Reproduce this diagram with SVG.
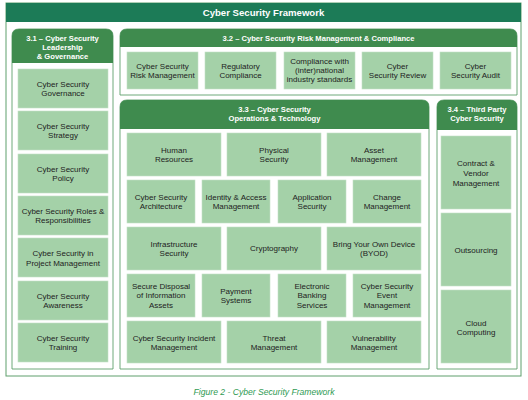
<svg xmlns="http://www.w3.org/2000/svg" width="528" height="400" viewBox="0 0 528 400">
<style>
.frame{fill:#fff;stroke:#5f9f6c;stroke-width:1}
.sec{fill:#fff;stroke:#5f9f6c;stroke-width:0.9}
.hdr{fill:#3f8b4e}
.box{fill:#a4d1a8;stroke:#c4e2c6;stroke-width:0.6}
.bt{font-family:"Liberation Sans",Arial,sans-serif;font-size:8px;fill:#222;text-anchor:middle}
.ht{font-family:"Liberation Sans",Arial,sans-serif;font-size:7.6px;font-weight:bold;fill:#fff;text-anchor:middle}
.tt{font-family:"Liberation Sans",Arial,sans-serif;font-size:9.6px;font-weight:bold;fill:#fff;text-anchor:middle}
.cap{font-family:"Liberation Sans",Arial,sans-serif;font-size:8.6px;font-style:italic;fill:#2f9a52;text-anchor:middle}
</style>
<rect width="528" height="400" fill="#fff"/>
<g id="frame">
<rect class="frame" x="6" y="3" width="515" height="373"/>
<rect x="6" y="3" width="515" height="19" fill="#1c7b57"/>
<text class="tt" x="263.5" y="16">Cyber Security Framework</text>
</g>
<g id="connectors"></g>
<g id="sec31">
<path class="sec" d="M12,369 V36 Q12,29 19,29 H106 Q113,29 113,36 V369 Z"/>
<path class="hdr" d="M12,63 V36 Q12,29 19,29 H106 Q113,29 113,36 V63 Z"/>
<text class="ht" x="62.5" y="40.5">3.1 – Cyber Security</text>
<text class="ht" x="62.5" y="49.5">Leadership</text>
<text class="ht" x="62.5" y="58.5">&amp; Governance</text>
</g>
<g id="n31a"><rect class="box" x="18" y="69" width="90" height="39"/><text class="bt" x="63" y="86.5">Cyber Security</text><text class="bt" x="63" y="96">Governance</text></g>
<g id="n31b"><rect class="box" x="18" y="111" width="90" height="39"/><text class="bt" x="63" y="128.5">Cyber Security</text><text class="bt" x="63" y="138">Strategy</text></g>
<g id="n31c"><rect class="box" x="18" y="154" width="90" height="39"/><text class="bt" x="63" y="171.5">Cyber Security</text><text class="bt" x="63" y="181">Policy</text></g>
<g id="n31d"><rect class="box" x="18" y="196" width="90" height="39"/><text class="bt" x="63" y="213.5">Cyber Security Roles &amp;</text><text class="bt" x="63" y="223">Responsibilities</text></g>
<g id="n31e"><rect class="box" x="18" y="238" width="90" height="39"/><text class="bt" x="63" y="256">Cyber Security in</text><text class="bt" x="63" y="265.5">Project Management</text></g>
<g id="n31f"><rect class="box" x="18" y="281" width="90" height="39"/><text class="bt" x="63" y="298.5">Cyber Security</text><text class="bt" x="63" y="308">Awareness</text></g>
<g id="n31g"><rect class="box" x="18" y="323" width="90" height="39"/><text class="bt" x="63" y="340.5">Cyber Security</text><text class="bt" x="63" y="350">Training</text></g>

<g id="sec32">
<path class="sec" d="M120,95 V36 Q120,29 127,29 H510 Q517,29 517,36 V95 Z"/>
<path class="hdr" d="M120,47 V36 Q120,29 127,29 H510 Q517,29 517,36 V47 Z"/>
<text class="ht" x="318.5" y="41">3.2 – Cyber Security Risk Management &amp; Compliance</text>
</g>
<g id="n32a"><rect class="box" x="127" y="52" width="71" height="37"/><text class="bt" x="162.5" y="68.5">Cyber Security</text><text class="bt" x="162.5" y="78">Risk Management</text></g>
<g id="n32b"><rect class="box" x="205" y="52" width="71" height="37"/><text class="bt" x="240.5" y="68.5">Regulatory</text><text class="bt" x="240.5" y="78">Compliance</text></g>
<g id="n32c"><rect class="box" x="284" y="52" width="71" height="37"/><text class="bt" x="319.5" y="64.3">Compliance with</text><text class="bt" x="319.5" y="73.3">(inter)national</text><text class="bt" x="319.5" y="82.3">industry standards</text></g>
<g id="n32d"><rect class="box" x="362" y="52" width="71" height="37"/><text class="bt" x="397.5" y="68.5">Cyber</text><text class="bt" x="397.5" y="78">Security Review</text></g>
<g id="n32e"><rect class="box" x="440" y="52" width="71" height="37"/><text class="bt" x="475.5" y="68.5">Cyber</text><text class="bt" x="475.5" y="78">Security Audit</text></g>

<g id="sec33">
<path class="sec" d="M120,369 V107 Q120,100 127,100 H422 Q429,100 429,107 V369 Z"/>
<path class="hdr" d="M120,129 V107 Q120,100 127,100 H422 Q429,100 429,107 V129 Z"/>
<text class="ht" x="274.5" y="111.5">3.3 – Cyber Security</text>
<text class="ht" x="274.5" y="120.5">Operations &amp; Technology</text>
</g>
<g id="n33a"><rect class="box" x="127" y="133" width="94" height="43"/><text class="bt" x="174" y="152.5">Human</text><text class="bt" x="174" y="162">Resources</text></g>
<g id="n33b"><rect class="box" x="227" y="133" width="94" height="43"/><text class="bt" x="274" y="152.5">Physical</text><text class="bt" x="274" y="162">Security</text></g>
<g id="n33c"><rect class="box" x="327" y="133" width="94" height="43"/><text class="bt" x="374" y="152.5">Asset</text><text class="bt" x="374" y="162">Management</text></g>
<g id="n33d"><rect class="box" x="127" y="180" width="68" height="43"/><text class="bt" x="161" y="199.5">Cyber Security</text><text class="bt" x="161" y="209">Architecture</text></g>
<g id="n33e"><rect class="box" x="202" y="180" width="68" height="43"/><text class="bt" x="236" y="199.5">Identity &amp; Access</text><text class="bt" x="236" y="209">Management</text></g>
<g id="n33f"><rect class="box" x="278" y="180" width="68" height="43"/><text class="bt" x="312" y="199.5">Application</text><text class="bt" x="312" y="209">Security</text></g>
<g id="n33g"><rect class="box" x="353" y="180" width="68" height="43"/><text class="bt" x="387" y="199.5">Change</text><text class="bt" x="387" y="209">Management</text></g>
<g id="n33h"><rect class="box" x="127" y="227" width="94" height="43"/><text class="bt" x="174" y="246.5">Infrastructure</text><text class="bt" x="174" y="256">Security</text></g>
<g id="n33i"><rect class="box" x="227" y="227" width="94" height="43"/><text class="bt" x="274" y="251.3">Cryptography</text></g>
<g id="n33j"><rect class="box" x="327" y="227" width="94" height="43"/><text class="bt" x="374" y="246.5">Bring Your Own Device</text><text class="bt" x="374" y="256">(BYOD)</text></g>
<g id="n33k"><rect class="box" x="127" y="274" width="68" height="43"/><text class="bt" x="161" y="288.8">Secure Disposal</text><text class="bt" x="161" y="298.3">of Information</text><text class="bt" x="161" y="307.8">Assets</text></g>
<g id="n33l"><rect class="box" x="202" y="274" width="68" height="43"/><text class="bt" x="236" y="293.5">Payment</text><text class="bt" x="236" y="303">Systems</text></g>
<g id="n33m"><rect class="box" x="278" y="274" width="68" height="43"/><text class="bt" x="312" y="288.8">Electronic</text><text class="bt" x="312" y="298.3">Banking</text><text class="bt" x="312" y="307.8">Services</text></g>
<g id="n33n"><rect class="box" x="353" y="274" width="68" height="43"/><text class="bt" x="387" y="288.8">Cyber Security</text><text class="bt" x="387" y="298.3">Event</text><text class="bt" x="387" y="307.8">Management</text></g>
<g id="n33o"><rect class="box" x="127" y="321" width="94" height="42"/><text class="bt" x="174" y="340.5">Cyber Security Incident</text><text class="bt" x="174" y="350">Management</text></g>
<g id="n33p"><rect class="box" x="227" y="321" width="94" height="42"/><text class="bt" x="274" y="340.5">Threat</text><text class="bt" x="274" y="350">Management</text></g>
<g id="n33q"><rect class="box" x="327" y="321" width="94" height="42"/><text class="bt" x="374" y="340.5">Vulnerability</text><text class="bt" x="374" y="350">Management</text></g>

<g id="sec34">
<path class="sec" d="M437,369 V107 Q437,100 444,100 H510 Q517,100 517,107 V369 Z"/>
<path class="hdr" d="M437,130 V107 Q437,100 444,100 H510 Q517,100 517,107 V130 Z"/>
<text class="ht" x="477" y="112">3.4 – Third Party</text>
<text class="ht" x="477" y="121">Cyber Security</text>
</g>
<g id="n34a"><rect class="box" x="441" y="136" width="70" height="73"/><text class="bt" x="476" y="166">Contract &amp;</text><text class="bt" x="476" y="176">Vendor</text><text class="bt" x="476" y="186">Management</text></g>
<g id="n34b"><rect class="box" x="441" y="213" width="70" height="73"/><text class="bt" x="476" y="252.5">Outsourcing</text></g>
<g id="n34c"><rect class="box" x="441" y="290" width="70" height="73"/><text class="bt" x="476" y="325.5">Cloud</text><text class="bt" x="476" y="335">Computing</text></g>

<text class="cap" x="264" y="395">Figure 2 - Cyber Security Framework</text>
</svg>
